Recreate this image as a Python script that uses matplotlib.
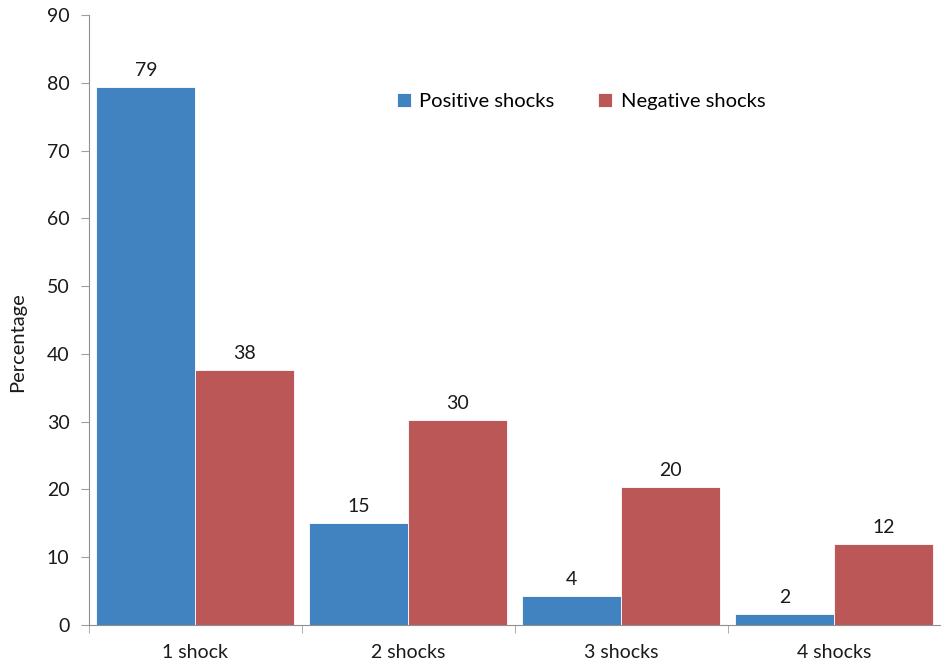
import numpy as np
import matplotlib.pyplot as plt

categories = ["1 shock", "2 shocks", "3 shocks", "4 shocks"]
positive = [79.4, 15.0, 4.3, 1.6]
negative = [37.6, 30.3, 20.3, 12.0]
pos_labels = ["79", "15", "4", "2"]
neg_labels = ["38", "30", "20", "12"]

plt.rcParams['font.family'] = ['Lato', 'DejaVu Sans']

fig = plt.figure(figsize=(9.41, 6.63), dpi=100)
ax = fig.add_axes([0.0946, 0.0573, 0.905, 0.92])

x = np.arange(len(categories))
w = 0.465
blue = '#4182c0'
red = '#bc5757'
b1 = ax.bar(x - w / 2, positive, w, color=blue, edgecolor='white', linewidth=0.6, label='Positive shocks')
b2 = ax.bar(x + w / 2, negative, w, color=red, edgecolor='white', linewidth=0.6, label='Negative shocks')

for bars, labs in [(b1, pos_labels), (b2, neg_labels)]:
    for bar, lab in zip(bars, labs):
        ax.text(bar.get_x() + bar.get_width() / 2, bar.get_height() + 1.2, lab,
                ha='center', va='bottom', fontsize=14, color='#1a1a1a')

ax.set_xlim(-0.5, 3.5)
ax.set_ylim(0, 90)
ax.set_yticks(range(0, 91, 10))
ax.set_xticks(x)
ax.set_xticklabels(categories)
ax.set_xticks(np.arange(-0.5, 3.6, 1), minor=True)
ax.tick_params(axis='x', which='major', length=0, pad=14, labelsize=14, labelcolor='#1a1a1a')
ax.tick_params(axis='x', which='minor', length=6, color='#a0a0a0')
ax.tick_params(axis='y', length=6, color='#a0a0a0', labelsize=14, labelcolor='#1a1a1a', pad=8)

for s in ['top', 'right']:
    ax.spines[s].set_visible(False)
for s in ['left', 'bottom']:
    ax.spines[s].set_color('#909090')

ax.set_ylabel('Percentage', fontsize=14.5, color='#1a1a1a')
ax.yaxis.set_label_coords(-0.074, 0.464)

ax.legend(loc='upper left', bbox_to_anchor=(0.34, 0.902), ncol=2, frameon=False,
          fontsize=14.5, handlelength=0.7, handleheight=0.7, handletextpad=0.4,
          columnspacing=2.2)

fig.savefig('out.png', dpi=100)
